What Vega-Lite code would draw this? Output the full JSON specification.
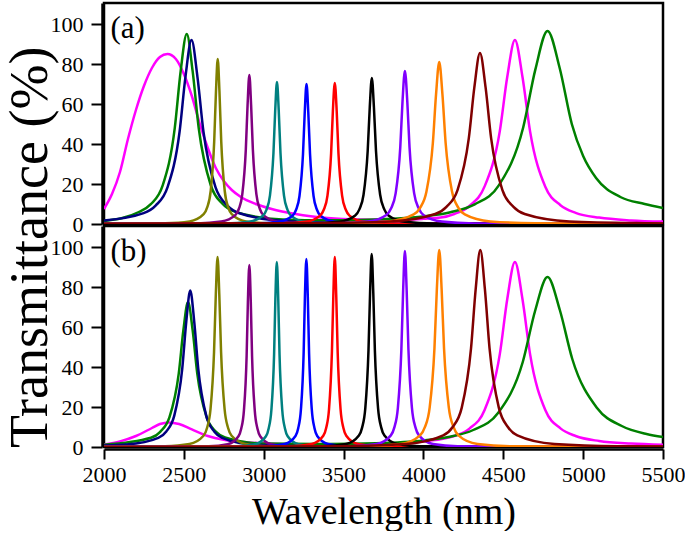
{
"$schema":"https://vega.github.io/schema/vega-lite/v6.json",
"padding":{"left":3,"top":1,"right":0,"bottom":0},
"spacing":{"row":-2},
"data":{"values":[
{"p":"a","s":"mag","x":2000,"y":7.5},{"p":"a","s":"mag","x":2050,"y":15},{"p":"a","s":"mag","x":2100,"y":26},{"p":"a","s":"mag","x":2150,"y":42.5},{"p":"a","s":"mag","x":2200,"y":57},{"p":"a","s":"mag","x":2250,"y":69},{"p":"a","s":"mag","x":2300,"y":78},{"p":"a","s":"mag","x":2350,"y":83.5},{"p":"a","s":"mag","x":2397,"y":85},{"p":"a","s":"mag","x":2450,"y":82.5},{"p":"a","s":"mag","x":2500,"y":75},{"p":"a","s":"mag","x":2550,"y":64},{"p":"a","s":"mag","x":2600,"y":50},{"p":"a","s":"mag","x":2650,"y":38},{"p":"a","s":"mag","x":2700,"y":28},{"p":"a","s":"mag","x":2750,"y":21.5},{"p":"a","s":"mag","x":2800,"y":17},{"p":"a","s":"mag","x":2857,"y":13.5},{"p":"a","s":"mag","x":2950,"y":10},{"p":"a","s":"mag","x":3050,"y":7.5},{"p":"a","s":"mag","x":3200,"y":5},{"p":"a","s":"mag","x":3400,"y":3},{"p":"a","s":"mag","x":3600,"y":2.2},{"p":"a","s":"mag","x":3813,"y":2},{"p":"a","s":"mag","x":4000,"y":2.6},{"p":"a","s":"mag","x":4108,"y":3.2},{"p":"a","s":"mag","x":4193,"y":5},{"p":"a","s":"mag","x":4288,"y":9},{"p":"a","s":"mag","x":4383,"y":18.8},{"p":"a","s":"mag","x":4478,"y":46.3},{"p":"a","s":"mag","x":4525,"y":73.6},{"p":"a","s":"mag","x":4573,"y":92},{"p":"a","s":"mag","x":4620,"y":73.6},{"p":"a","s":"mag","x":4668,"y":46.2},{"p":"a","s":"mag","x":4763,"y":18.6},{"p":"a","s":"mag","x":4858,"y":9.4},{"p":"a","s":"mag","x":4953,"y":5.6},{"p":"a","s":"mag","x":5100,"y":3.2},{"p":"a","s":"mag","x":5300,"y":1.8},{"p":"a","s":"mag","x":5500,"y":1.2},
{"p":"a","s":"grn","x":2000,"y":1.5},{"p":"a","s":"grn","x":2218,"y":6},{"p":"a","s":"grn","x":2293,"y":9.9},{"p":"a","s":"grn","x":2368,"y":19.4},{"p":"a","s":"grn","x":2443,"y":47.9},{"p":"a","s":"grn","x":2480,"y":76.4},{"p":"a","s":"grn","x":2518,"y":95},{"p":"a","s":"grn","x":2555,"y":76.4},{"p":"a","s":"grn","x":2593,"y":48},{"p":"a","s":"grn","x":2668,"y":19.5},{"p":"a","s":"grn","x":2743,"y":10},{"p":"a","s":"grn","x":2818,"y":6.2},{"p":"a","s":"grn","x":3118,"y":2.3},{"p":"a","s":"grn","x":3400,"y":1.85},{"p":"a","s":"grn","x":3700,"y":2.3},{"p":"a","s":"grn","x":4000,"y":3.8},{"p":"a","s":"grn","x":4169,"y":5.9},{"p":"a","s":"grn","x":4321,"y":9.8},{"p":"a","s":"grn","x":4473,"y":19.4},{"p":"a","s":"grn","x":4625,"y":48.4},{"p":"a","s":"grn","x":4701,"y":77.3},{"p":"a","s":"grn","x":4777,"y":96.5},{"p":"a","s":"grn","x":4853,"y":78},{"p":"a","s":"grn","x":4929,"y":50},{"p":"a","s":"grn","x":5000,"y":34},{"p":"a","s":"grn","x":5081,"y":23},{"p":"a","s":"grn","x":5233,"y":13.5},{"p":"a","s":"grn","x":5385,"y":10},{"p":"a","s":"grn","x":5500,"y":8},
{"p":"a","s":"nav","x":2000,"y":1.7},{"p":"a","s":"nav","x":2248,"y":5.4},{"p":"a","s":"nav","x":2323,"y":9.2},{"p":"a","s":"nav","x":2398,"y":18.4},{"p":"a","s":"nav","x":2473,"y":46},{"p":"a","s":"nav","x":2510,"y":73.6},{"p":"a","s":"nav","x":2548,"y":92},{"p":"a","s":"nav","x":2585,"y":73.6},{"p":"a","s":"nav","x":2623,"y":46},{"p":"a","s":"nav","x":2698,"y":18.4},{"p":"a","s":"nav","x":2773,"y":9.2},{"p":"a","s":"nav","x":2848,"y":5.4},{"p":"a","s":"nav","x":3148,"y":1.4},{"p":"a","s":"nav","x":3673,"y":0.4},{"p":"a","s":"nav","x":5500,"y":0.1},
{"p":"a","s":"olv","x":2000,"y":0.1},{"p":"a","s":"olv","x":2382,"y":0.4},{"p":"a","s":"olv","x":2536,"y":1.3},{"p":"a","s":"olv","x":2624,"y":4.9},{"p":"a","s":"olv","x":2646,"y":8.3},{"p":"a","s":"olv","x":2668,"y":16.5},{"p":"a","s":"olv","x":2690,"y":41.3},{"p":"a","s":"olv","x":2701,"y":66},{"p":"a","s":"olv","x":2712,"y":82.5},{"p":"a","s":"olv","x":2723,"y":66},{"p":"a","s":"olv","x":2734,"y":41.3},{"p":"a","s":"olv","x":2756,"y":16.5},{"p":"a","s":"olv","x":2778,"y":8.3},{"p":"a","s":"olv","x":2800,"y":4.9},{"p":"a","s":"olv","x":2888,"y":1.3},{"p":"a","s":"olv","x":3042,"y":0.4},{"p":"a","s":"olv","x":5500,"y":0},
{"p":"a","s":"pur","x":2000,"y":0.1},{"p":"a","s":"pur","x":2580,"y":0.3},{"p":"a","s":"pur","x":2734,"y":1.2},{"p":"a","s":"pur","x":2822,"y":4.4},{"p":"a","s":"pur","x":2844,"y":7.5},{"p":"a","s":"pur","x":2866,"y":14.9},{"p":"a","s":"pur","x":2888,"y":37.3},{"p":"a","s":"pur","x":2899,"y":59.6},{"p":"a","s":"pur","x":2910,"y":74.5},{"p":"a","s":"pur","x":2921,"y":59.6},{"p":"a","s":"pur","x":2932,"y":37.3},{"p":"a","s":"pur","x":2954,"y":14.9},{"p":"a","s":"pur","x":2976,"y":7.5},{"p":"a","s":"pur","x":2998,"y":4.4},{"p":"a","s":"pur","x":3086,"y":1.2},{"p":"a","s":"pur","x":3240,"y":0.3},{"p":"a","s":"pur","x":5500,"y":0},
{"p":"a","s":"tea","x":2000,"y":0},{"p":"a","s":"tea","x":2753,"y":0.3},{"p":"a","s":"tea","x":2907,"y":1.1},{"p":"a","s":"tea","x":2995,"y":4.2},{"p":"a","s":"tea","x":3017,"y":7.1},{"p":"a","s":"tea","x":3039,"y":14.2},{"p":"a","s":"tea","x":3061,"y":35.5},{"p":"a","s":"tea","x":3072,"y":56.8},{"p":"a","s":"tea","x":3083,"y":71},{"p":"a","s":"tea","x":3094,"y":56.8},{"p":"a","s":"tea","x":3105,"y":35.5},{"p":"a","s":"tea","x":3127,"y":14.2},{"p":"a","s":"tea","x":3149,"y":7.1},{"p":"a","s":"tea","x":3171,"y":4.2},{"p":"a","s":"tea","x":3259,"y":1.1},{"p":"a","s":"tea","x":3413,"y":0.3},{"p":"a","s":"tea","x":5500,"y":0},
{"p":"a","s":"blu","x":2000,"y":0},{"p":"a","s":"blu","x":2938,"y":0.3},{"p":"a","s":"blu","x":3092,"y":1.1},{"p":"a","s":"blu","x":3180,"y":4.1},{"p":"a","s":"blu","x":3202,"y":7},{"p":"a","s":"blu","x":3224,"y":14},{"p":"a","s":"blu","x":3246,"y":35},{"p":"a","s":"blu","x":3257,"y":56},{"p":"a","s":"blu","x":3268,"y":70},{"p":"a","s":"blu","x":3279,"y":56},{"p":"a","s":"blu","x":3290,"y":35},{"p":"a","s":"blu","x":3312,"y":14},{"p":"a","s":"blu","x":3334,"y":7},{"p":"a","s":"blu","x":3356,"y":4.1},{"p":"a","s":"blu","x":3444,"y":1.1},{"p":"a","s":"blu","x":3598,"y":0.3},{"p":"a","s":"blu","x":5500,"y":0},
{"p":"a","s":"red","x":2000,"y":0},{"p":"a","s":"red","x":3100,"y":0.3},{"p":"a","s":"red","x":3261,"y":1.1},{"p":"a","s":"red","x":3353,"y":4.2},{"p":"a","s":"red","x":3376,"y":7.1},{"p":"a","s":"red","x":3399,"y":14.1},{"p":"a","s":"red","x":3422,"y":35.3},{"p":"a","s":"red","x":3433,"y":56.4},{"p":"a","s":"red","x":3445,"y":70.5},{"p":"a","s":"red","x":3457,"y":56.4},{"p":"a","s":"red","x":3468,"y":35.3},{"p":"a","s":"red","x":3491,"y":14.1},{"p":"a","s":"red","x":3514,"y":7.1},{"p":"a","s":"red","x":3537,"y":4.2},{"p":"a","s":"red","x":3629,"y":1.1},{"p":"a","s":"red","x":3790,"y":0.3},{"p":"a","s":"red","x":5500,"y":0},
{"p":"a","s":"blk","x":2000,"y":0},{"p":"a","s":"blk","x":3287,"y":0.3},{"p":"a","s":"blk","x":3469,"y":1.1},{"p":"a","s":"blk","x":3573,"y":4.3},{"p":"a","s":"blk","x":3599,"y":7.3},{"p":"a","s":"blk","x":3625,"y":14.6},{"p":"a","s":"blk","x":3651,"y":36.5},{"p":"a","s":"blk","x":3664,"y":58.4},{"p":"a","s":"blk","x":3677,"y":73},{"p":"a","s":"blk","x":3690,"y":58.4},{"p":"a","s":"blk","x":3703,"y":36.5},{"p":"a","s":"blk","x":3729,"y":14.6},{"p":"a","s":"blk","x":3755,"y":7.3},{"p":"a","s":"blk","x":3781,"y":4.3},{"p":"a","s":"blk","x":3885,"y":1.1},{"p":"a","s":"blk","x":4067,"y":0.3},{"p":"a","s":"blk","x":5500,"y":0},
{"p":"a","s":"vio","x":2000,"y":0},{"p":"a","s":"vio","x":3449,"y":0.3},{"p":"a","s":"vio","x":3652,"y":1.2},{"p":"a","s":"vio","x":3768,"y":4.5},{"p":"a","s":"vio","x":3797,"y":7.7},{"p":"a","s":"vio","x":3826,"y":15.3},{"p":"a","s":"vio","x":3855,"y":38.3},{"p":"a","s":"vio","x":3869,"y":61.2},{"p":"a","s":"vio","x":3884,"y":76.5},{"p":"a","s":"vio","x":3899,"y":61.2},{"p":"a","s":"vio","x":3913,"y":38.3},{"p":"a","s":"vio","x":3942,"y":15.3},{"p":"a","s":"vio","x":3971,"y":7.7},{"p":"a","s":"vio","x":4000,"y":4.5},{"p":"a","s":"vio","x":4116,"y":1.2},{"p":"a","s":"vio","x":4319,"y":0.3},{"p":"a","s":"vio","x":5500,"y":0.05},
{"p":"a","s":"org","x":2000,"y":0},{"p":"a","s":"org","x":3499,"y":0.4},{"p":"a","s":"org","x":3779,"y":1.3},{"p":"a","s":"org","x":3939,"y":4.8},{"p":"a","s":"org","x":3979,"y":8.1},{"p":"a","s":"org","x":4019,"y":16.2},{"p":"a","s":"org","x":4059,"y":40.5},{"p":"a","s":"org","x":4079,"y":64.8},{"p":"a","s":"org","x":4099,"y":81},{"p":"a","s":"org","x":4119,"y":64.8},{"p":"a","s":"org","x":4139,"y":40.5},{"p":"a","s":"org","x":4179,"y":16.2},{"p":"a","s":"org","x":4219,"y":8.1},{"p":"a","s":"org","x":4259,"y":4.8},{"p":"a","s":"org","x":4419,"y":1.3},{"p":"a","s":"org","x":4699,"y":0.4},{"p":"a","s":"org","x":5500,"y":0.1},
{"p":"a","s":"mar","x":2000,"y":0.1},{"p":"a","s":"mar","x":3304,"y":0.4},{"p":"a","s":"mar","x":3794,"y":1.3},{"p":"a","s":"mar","x":4074,"y":5},{"p":"a","s":"mar","x":4144,"y":8.6},{"p":"a","s":"mar","x":4214,"y":17.1},{"p":"a","s":"mar","x":4284,"y":42.8},{"p":"a","s":"mar","x":4319,"y":68.4},{"p":"a","s":"mar","x":4354,"y":85.5},{"p":"a","s":"mar","x":4389,"y":68.4},{"p":"a","s":"mar","x":4424,"y":42.8},{"p":"a","s":"mar","x":4494,"y":17.1},{"p":"a","s":"mar","x":4564,"y":8.6},{"p":"a","s":"mar","x":4634,"y":5},{"p":"a","s":"mar","x":4914,"y":1.3},{"p":"a","s":"mar","x":5404,"y":0.4},{"p":"a","s":"mar","x":5500,"y":0.3},
{"p":"b","s":"mag","x":2000,"y":1.2},{"p":"b","s":"mag","x":2100,"y":2.8},{"p":"b","s":"mag","x":2200,"y":5.5},{"p":"b","s":"mag","x":2300,"y":9.5},{"p":"b","s":"mag","x":2350,"y":11.5},{"p":"b","s":"mag","x":2407,"y":12.3},{"p":"b","s":"mag","x":2470,"y":11.5},{"p":"b","s":"mag","x":2550,"y":8.8},{"p":"b","s":"mag","x":2650,"y":5.5},{"p":"b","s":"mag","x":2750,"y":3.6},{"p":"b","s":"mag","x":2850,"y":2.6},{"p":"b","s":"mag","x":3000,"y":1.8},{"p":"b","s":"mag","x":3200,"y":1.3},{"p":"b","s":"mag","x":3500,"y":1.1},{"p":"b","s":"mag","x":3800,"y":1.4},{"p":"b","s":"mag","x":4000,"y":2.8},{"p":"b","s":"mag","x":4193,"y":5.5},{"p":"b","s":"mag","x":4288,"y":9.2},{"p":"b","s":"mag","x":4383,"y":18.5},{"p":"b","s":"mag","x":4478,"y":46.3},{"p":"b","s":"mag","x":4525,"y":74},{"p":"b","s":"mag","x":4573,"y":92.5},{"p":"b","s":"mag","x":4620,"y":74},{"p":"b","s":"mag","x":4668,"y":46.3},{"p":"b","s":"mag","x":4763,"y":18.5},{"p":"b","s":"mag","x":4858,"y":9.3},{"p":"b","s":"mag","x":4953,"y":5.5},{"p":"b","s":"mag","x":5100,"y":3},{"p":"b","s":"mag","x":5300,"y":1.7},{"p":"b","s":"mag","x":5500,"y":1.1},
{"p":"b","s":"grn","x":2000,"y":1.1},{"p":"b","s":"grn","x":2294,"y":4.6},{"p":"b","s":"grn","x":2352,"y":7.6},{"p":"b","s":"grn","x":2410,"y":14.9},{"p":"b","s":"grn","x":2468,"y":36.7},{"p":"b","s":"grn","x":2497,"y":58.4},{"p":"b","s":"grn","x":2526,"y":72.5},{"p":"b","s":"grn","x":2555,"y":58.4},{"p":"b","s":"grn","x":2584,"y":36.7},{"p":"b","s":"grn","x":2642,"y":15},{"p":"b","s":"grn","x":2700,"y":7.7},{"p":"b","s":"grn","x":2758,"y":4.8},{"p":"b","s":"grn","x":2990,"y":1.8},{"p":"b","s":"grn","x":3400,"y":1.5},{"p":"b","s":"grn","x":3700,"y":1.9},{"p":"b","s":"grn","x":4000,"y":3.3},{"p":"b","s":"grn","x":4157,"y":5},{"p":"b","s":"grn","x":4312,"y":8.5},{"p":"b","s":"grn","x":4467,"y":17},{"p":"b","s":"grn","x":4622,"y":42.5},{"p":"b","s":"grn","x":4699,"y":68},{"p":"b","s":"grn","x":4777,"y":85},{"p":"b","s":"grn","x":4854,"y":68.5},{"p":"b","s":"grn","x":4932,"y":44},{"p":"b","s":"grn","x":5087,"y":19.5},{"p":"b","s":"grn","x":5242,"y":10.5},{"p":"b","s":"grn","x":5397,"y":6.5},{"p":"b","s":"grn","x":5500,"y":5},
{"p":"b","s":"nav","x":2000,"y":0.7},{"p":"b","s":"nav","x":2140,"y":1.2},{"p":"b","s":"nav","x":2340,"y":4.6},{"p":"b","s":"nav","x":2390,"y":7.8},{"p":"b","s":"nav","x":2440,"y":15.7},{"p":"b","s":"nav","x":2490,"y":39.2},{"p":"b","s":"nav","x":2515,"y":62.6},{"p":"b","s":"nav","x":2540,"y":78.3},{"p":"b","s":"nav","x":2565,"y":62.6},{"p":"b","s":"nav","x":2590,"y":39.2},{"p":"b","s":"nav","x":2640,"y":15.7},{"p":"b","s":"nav","x":2690,"y":7.8},{"p":"b","s":"nav","x":2740,"y":4.6},{"p":"b","s":"nav","x":2940,"y":1.2},{"p":"b","s":"nav","x":3290,"y":0.35},{"p":"b","s":"nav","x":5500,"y":0},
{"p":"b","s":"olv","x":2000,"y":0.1},{"p":"b","s":"olv","x":2381,"y":0.4},{"p":"b","s":"olv","x":2535,"y":1.5},{"p":"b","s":"olv","x":2623,"y":5.6},{"p":"b","s":"olv","x":2645,"y":9.5},{"p":"b","s":"olv","x":2667,"y":19},{"p":"b","s":"olv","x":2689,"y":47.5},{"p":"b","s":"olv","x":2700,"y":76},{"p":"b","s":"olv","x":2711,"y":95},{"p":"b","s":"olv","x":2722,"y":76},{"p":"b","s":"olv","x":2733,"y":47.5},{"p":"b","s":"olv","x":2755,"y":19},{"p":"b","s":"olv","x":2777,"y":9.5},{"p":"b","s":"olv","x":2799,"y":5.6},{"p":"b","s":"olv","x":2887,"y":1.5},{"p":"b","s":"olv","x":3041,"y":0.4},{"p":"b","s":"olv","x":5500,"y":0},
{"p":"b","s":"pur","x":2000,"y":0},{"p":"b","s":"pur","x":2655,"y":0.4},{"p":"b","s":"pur","x":2774,"y":1.4},{"p":"b","s":"pur","x":2842,"y":5.4},{"p":"b","s":"pur","x":2859,"y":9.1},{"p":"b","s":"pur","x":2876,"y":18.2},{"p":"b","s":"pur","x":2893,"y":45.5},{"p":"b","s":"pur","x":2901,"y":72.8},{"p":"b","s":"pur","x":2910,"y":91},{"p":"b","s":"pur","x":2919,"y":72.8},{"p":"b","s":"pur","x":2927,"y":45.5},{"p":"b","s":"pur","x":2944,"y":18.2},{"p":"b","s":"pur","x":2961,"y":9.1},{"p":"b","s":"pur","x":2978,"y":5.4},{"p":"b","s":"pur","x":3046,"y":1.4},{"p":"b","s":"pur","x":3165,"y":0.4},{"p":"b","s":"pur","x":5500,"y":0},
{"p":"b","s":"tea","x":2000,"y":0},{"p":"b","s":"tea","x":2827,"y":0.4},{"p":"b","s":"tea","x":2946,"y":1.4},{"p":"b","s":"tea","x":3014,"y":5.4},{"p":"b","s":"tea","x":3031,"y":9.3},{"p":"b","s":"tea","x":3048,"y":18.5},{"p":"b","s":"tea","x":3065,"y":46.3},{"p":"b","s":"tea","x":3073,"y":74},{"p":"b","s":"tea","x":3082,"y":92.5},{"p":"b","s":"tea","x":3091,"y":74},{"p":"b","s":"tea","x":3099,"y":46.3},{"p":"b","s":"tea","x":3116,"y":18.5},{"p":"b","s":"tea","x":3133,"y":9.3},{"p":"b","s":"tea","x":3150,"y":5.4},{"p":"b","s":"tea","x":3218,"y":1.4},{"p":"b","s":"tea","x":3337,"y":0.4},{"p":"b","s":"tea","x":5500,"y":0},
{"p":"b","s":"blu","x":2000,"y":0},{"p":"b","s":"blu","x":3012,"y":0.4},{"p":"b","s":"blu","x":3131,"y":1.5},{"p":"b","s":"blu","x":3199,"y":5.5},{"p":"b","s":"blu","x":3216,"y":9.4},{"p":"b","s":"blu","x":3233,"y":18.8},{"p":"b","s":"blu","x":3250,"y":47},{"p":"b","s":"blu","x":3258,"y":75.2},{"p":"b","s":"blu","x":3267,"y":94},{"p":"b","s":"blu","x":3276,"y":75.2},{"p":"b","s":"blu","x":3284,"y":47},{"p":"b","s":"blu","x":3301,"y":18.8},{"p":"b","s":"blu","x":3318,"y":9.4},{"p":"b","s":"blu","x":3335,"y":5.5},{"p":"b","s":"blu","x":3403,"y":1.5},{"p":"b","s":"blu","x":3522,"y":0.4},{"p":"b","s":"blu","x":5500,"y":0},
{"p":"b","s":"red","x":2000,"y":0},{"p":"b","s":"red","x":3175,"y":0.4},{"p":"b","s":"red","x":3301,"y":1.5},{"p":"b","s":"red","x":3373,"y":5.6},{"p":"b","s":"red","x":3391,"y":9.5},{"p":"b","s":"red","x":3409,"y":19},{"p":"b","s":"red","x":3427,"y":47.5},{"p":"b","s":"red","x":3436,"y":76},{"p":"b","s":"red","x":3445,"y":95},{"p":"b","s":"red","x":3454,"y":76},{"p":"b","s":"red","x":3463,"y":47.5},{"p":"b","s":"red","x":3481,"y":19},{"p":"b","s":"red","x":3499,"y":9.5},{"p":"b","s":"red","x":3517,"y":5.6},{"p":"b","s":"red","x":3589,"y":1.5},{"p":"b","s":"red","x":3715,"y":0.4},{"p":"b","s":"red","x":5500,"y":0},
{"p":"b","s":"blk","x":2000,"y":0},{"p":"b","s":"blk","x":3376,"y":0.4},{"p":"b","s":"blk","x":3516,"y":1.5},{"p":"b","s":"blk","x":3596,"y":5.7},{"p":"b","s":"blk","x":3616,"y":9.7},{"p":"b","s":"blk","x":3636,"y":19.3},{"p":"b","s":"blk","x":3656,"y":48.3},{"p":"b","s":"blk","x":3666,"y":77.2},{"p":"b","s":"blk","x":3676,"y":96.5},{"p":"b","s":"blk","x":3686,"y":77.2},{"p":"b","s":"blk","x":3696,"y":48.3},{"p":"b","s":"blk","x":3716,"y":19.3},{"p":"b","s":"blk","x":3736,"y":9.7},{"p":"b","s":"blk","x":3756,"y":5.7},{"p":"b","s":"blk","x":3836,"y":1.5},{"p":"b","s":"blk","x":3976,"y":0.4},{"p":"b","s":"blk","x":5500,"y":0},
{"p":"b","s":"vio","x":2000,"y":0},{"p":"b","s":"vio","x":3554,"y":0.4},{"p":"b","s":"vio","x":3708,"y":1.5},{"p":"b","s":"vio","x":3796,"y":5.8},{"p":"b","s":"vio","x":3818,"y":9.8},{"p":"b","s":"vio","x":3840,"y":19.6},{"p":"b","s":"vio","x":3862,"y":49},{"p":"b","s":"vio","x":3873,"y":78.4},{"p":"b","s":"vio","x":3884,"y":98},{"p":"b","s":"vio","x":3895,"y":78.4},{"p":"b","s":"vio","x":3906,"y":49},{"p":"b","s":"vio","x":3928,"y":19.6},{"p":"b","s":"vio","x":3950,"y":9.8},{"p":"b","s":"vio","x":3972,"y":5.8},{"p":"b","s":"vio","x":4060,"y":1.5},{"p":"b","s":"vio","x":4214,"y":0.4},{"p":"b","s":"vio","x":5500,"y":0},
{"p":"b","s":"org","x":2000,"y":0},{"p":"b","s":"org","x":3649,"y":0.4},{"p":"b","s":"org","x":3859,"y":1.5},{"p":"b","s":"org","x":3979,"y":5.8},{"p":"b","s":"org","x":4009,"y":9.9},{"p":"b","s":"org","x":4039,"y":19.7},{"p":"b","s":"org","x":4069,"y":49.3},{"p":"b","s":"org","x":4084,"y":78.8},{"p":"b","s":"org","x":4099,"y":98.5},{"p":"b","s":"org","x":4114,"y":78.8},{"p":"b","s":"org","x":4129,"y":49.3},{"p":"b","s":"org","x":4159,"y":19.7},{"p":"b","s":"org","x":4189,"y":9.9},{"p":"b","s":"org","x":4219,"y":5.8},{"p":"b","s":"org","x":4339,"y":1.5},{"p":"b","s":"org","x":4549,"y":0.4},{"p":"b","s":"org","x":5500,"y":0.1},
{"p":"b","s":"mar","x":2000,"y":0},{"p":"b","s":"mar","x":3486,"y":0.4},{"p":"b","s":"mar","x":3892,"y":1.5},{"p":"b","s":"mar","x":4124,"y":5.8},{"p":"b","s":"mar","x":4182,"y":9.9},{"p":"b","s":"mar","x":4240,"y":19.7},{"p":"b","s":"mar","x":4298,"y":49.3},{"p":"b","s":"mar","x":4327,"y":78.8},{"p":"b","s":"mar","x":4356,"y":98.5},{"p":"b","s":"mar","x":4385,"y":78.8},{"p":"b","s":"mar","x":4414,"y":49.3},{"p":"b","s":"mar","x":4472,"y":19.7},{"p":"b","s":"mar","x":4530,"y":9.9},{"p":"b","s":"mar","x":4588,"y":5.8},{"p":"b","s":"mar","x":4820,"y":1.5},{"p":"b","s":"mar","x":5226,"y":0.4},{"p":"b","s":"mar","x":5500,"y":0.3},
{"p":"a","lab":"(a)"},{"p":"b","lab":"(b)"}
]},
"facet":{"row":{"field":"p","type":"nominal","title":"Transmittance (%)","header":{"labels":false,"titleFont":"Liberation Serif","titleFontSize":54,"titleFontWeight":"normal","titleColor":"black","titlePadding":-18,"titleAnchor":"start"}}},
"spec":{
"width":559,"height":221,
"layer":[
{"transform":[{"filter":"datum.s != null"}],
"mark":{"type":"line","interpolate":"monotone","strokeWidth":2.5,"clip":true},
"encoding":{
"x":{"field":"x","type":"quantitative","scale":{"domain":[2000,5500],"nice":false,"zero":false},
"axis":{"title":"Wavelength (nm)","values":[2000,2250,2500,2750,3000,3250,3500,3750,4000,4250,4500,4750,5000,5250,5500],"labelExpr":"datum.value % 500 === 0 ? datum.label : ''","labelFlush":false,"labelOverlap":false,"format":"d","tickSize":{"condition":{"test":"datum.value % 500 === 0","value":10},"value":5},"labelPadding":5,"titleFontSize":38,"titlePadding":8}},
"y":{"field":"y","type":"quantitative","scale":{"domain":[0,110.5],"nice":false},
"axis":{"title":null,"values":[0,10,20,30,40,50,60,70,80,90,100],"labelExpr":"datum.value % 20 === 0 ? datum.label : ''","labelOverlap":false,"tickSize":{"condition":{"test":"datum.value % 20 === 0","value":11},"value":6},"labelPadding":8}},
"color":{"field":"s","type":"nominal","legend":null,"scale":{"domain":["mag","grn","nav","olv","pur","tea","blu","red","blk","vio","org","mar"],"range":["#FF00FF","#008000","#000080","#808000","#800080","#008080","#0000FF","#FF0000","#000000","#8000FF","#FF8000","#800000"]}}
}},
{"transform":[{"filter":"datum.lab != null"}],
"mark":{"type":"text","align":"left","baseline":"middle","font":"Liberation Serif","fontSize":31,"color":"black"},
"encoding":{"x":{"datum":2040},"y":{"datum":97.5},"text":{"field":"lab"}}}
]},
"config":{
"view":{"stroke":"black","strokeWidth":2.5},
"axis":{"domainColor":"black","domainWidth":2.5,"tickColor":"black","tickWidth":2,"labelColor":"black","labelFont":"Liberation Serif","labelFontSize":22,"titleFont":"Liberation Serif","titleFontWeight":"normal","titleColor":"black","grid":false}
}
}
